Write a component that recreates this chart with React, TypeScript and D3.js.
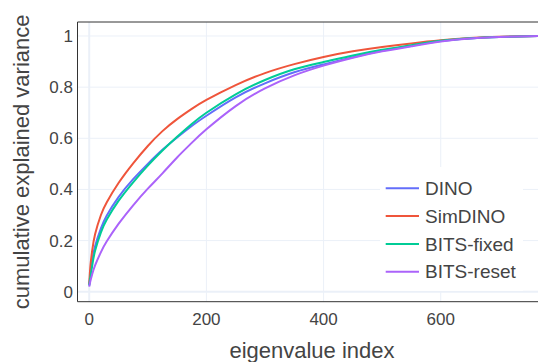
import React from "react";
import * as d3 from "d3";

const indices = [0, 2, 5, 10, 20, 30, 50, 75, 100, 125, 150, 175, 200, 250, 300, 350, 400, 450, 500, 550, 600, 650, 700, 767];
const dino = [0.025, 0.07, 0.12, 0.178, 0.248, 0.298, 0.37, 0.44, 0.5, 0.555, 0.603, 0.648, 0.688, 0.76, 0.815, 0.858, 0.889, 0.917, 0.942, 0.962, 0.98, 0.99, 0.996, 1.0];
const simdino = [0.03, 0.1, 0.16, 0.225, 0.3, 0.35, 0.425, 0.502, 0.57, 0.628, 0.675, 0.715, 0.75, 0.808, 0.855, 0.89, 0.918, 0.94, 0.957, 0.971, 0.983, 0.992, 0.997, 1.0];
const bitsFixed = [0.025, 0.058, 0.1, 0.16, 0.232, 0.282, 0.355, 0.428, 0.493, 0.552, 0.606, 0.656, 0.7, 0.772, 0.828, 0.87, 0.898, 0.924, 0.946, 0.964, 0.981, 0.991, 0.996, 1.0];
const bitsReset = [0.02, 0.042, 0.068, 0.103, 0.155, 0.197, 0.265, 0.338, 0.403, 0.463, 0.525, 0.582, 0.635, 0.726, 0.795, 0.846, 0.884, 0.915, 0.94, 0.96, 0.978, 0.99, 0.996, 1.0];

const seriesNames = ["DINO", "SimDINO", "BITS-fixed", "BITS-reset"];
const seriesValues = [dino, simdino, bitsFixed, bitsReset];
const seriesColors = ["#636efa", "#EF553B", "#00cc96", "#ab63fa"];

const xTicks = [0, 200, 400, 600];
const yTicks = [0, 0.2, 0.4, 0.6, 0.8, 1];
const yTickLabels = ["0", "0.2", "0.4", "0.6", "0.8", "1"];

const W = 538;
const H = 362;
const left = 77.5;
const right = 546.5;
const top = 22;
const bottom = 301.7;

export default function App() {
  const x = d3.scaleLinear().domain([-20, 780.5]).range([left, right]);
  const y = d3.scaleLinear().domain([-0.039, 1.0547]).range([bottom, top]);
  const line = d3
    .line<[number, number]>()
    .x((d) => x(d[0]))
    .y((d) => y(d[1]))
    .curve(d3.curveNatural);

  const font = "'Liberation Sans', Arial, sans-serif";
  const legX = 380;
  const legY = 167;
  const legW = 143;
  const legH = 124;
  const legRow0 = 188.3;
  const legStep = 27.8;

  return (
    <svg
      width={W}
      height={H}
      style={{ position: "absolute", left: 0, top: 0, background: "#fff" }}
      fontFamily={font}
    >
      <defs>
        <clipPath id="plotclip">
          <rect x={left} y={top} width={right - left} height={bottom - top} />
        </clipPath>
      </defs>
      <rect x={0} y={0} width={W} height={H} fill="#fff" />
      <g clipPath="url(#plotclip)">
        {xTicks.map((t) => (
          <line
            key={"gx" + t}
            x1={x(t)}
            x2={x(t)}
            y1={top}
            y2={bottom}
            stroke="#EBF0F8"
            strokeWidth={t === 0 ? 2 : 1}
          />
        ))}
        {yTicks.map((t) => (
          <line
            key={"gy" + t}
            x1={left}
            x2={right}
            y1={y(t)}
            y2={y(t)}
            stroke="#EBF0F8"
            strokeWidth={t === 0 ? 2 : 1}
          />
        ))}
        {seriesValues.map((vals, i) => (
          <path
            key={seriesNames[i]}
            d={line(indices.map((ix, j) => [ix, vals[j]] as [number, number])) || ""}
            fill="none"
            stroke={seriesColors[i]}
            strokeWidth={2}
          />
        ))}
      </g>
      <line x1={left} x2={right} y1={top} y2={top} stroke="#333" strokeWidth={1} />
      <line x1={left} x2={right} y1={bottom} y2={bottom} stroke="#333" strokeWidth={1} />
      <line x1={left} x2={left} y1={top} y2={bottom} stroke="#333" strokeWidth={1} />
      {xTicks.map((t) => (
        <text key={"tx" + t} x={x(t)} y={324.6} textAnchor="middle" fontSize={17} fill="#444">
          {t}
        </text>
      ))}
      {yTicks.map((t, i) => (
        <text
          key={"ty" + t}
          x={73}
          y={y(t)}
          dy="0.35em"
          textAnchor="end"
          fontSize={17}
          fill="#444"
        >
          {yTickLabels[i]}
        </text>
      ))}
      <text x={312} y={357.5} textAnchor="middle" fontSize={22} fill="#444">
        eigenvalue index
      </text>
      <text
        transform={`translate(28.5, ${(top + bottom) / 2}) rotate(-90)`}
        textAnchor="middle"
        fontSize={22}
        fill="#444"
      >
        cumulative explained variance
      </text>
      <rect x={legX} y={legY} width={legW} height={legH} fill="#fff" />
      {seriesNames.map((name, i) => {
        const cy = legRow0 + i * legStep;
        return (
          <g key={"leg" + name}>
            <line x1={385.7} x2={419} y1={cy} y2={cy} stroke={seriesColors[i]} strokeWidth={2} />
            <text x={425} y={cy} dy="0.35em" fontSize={19} fill="#444">
              {name}
            </text>
          </g>
        );
      })}
    </svg>
  );
}
